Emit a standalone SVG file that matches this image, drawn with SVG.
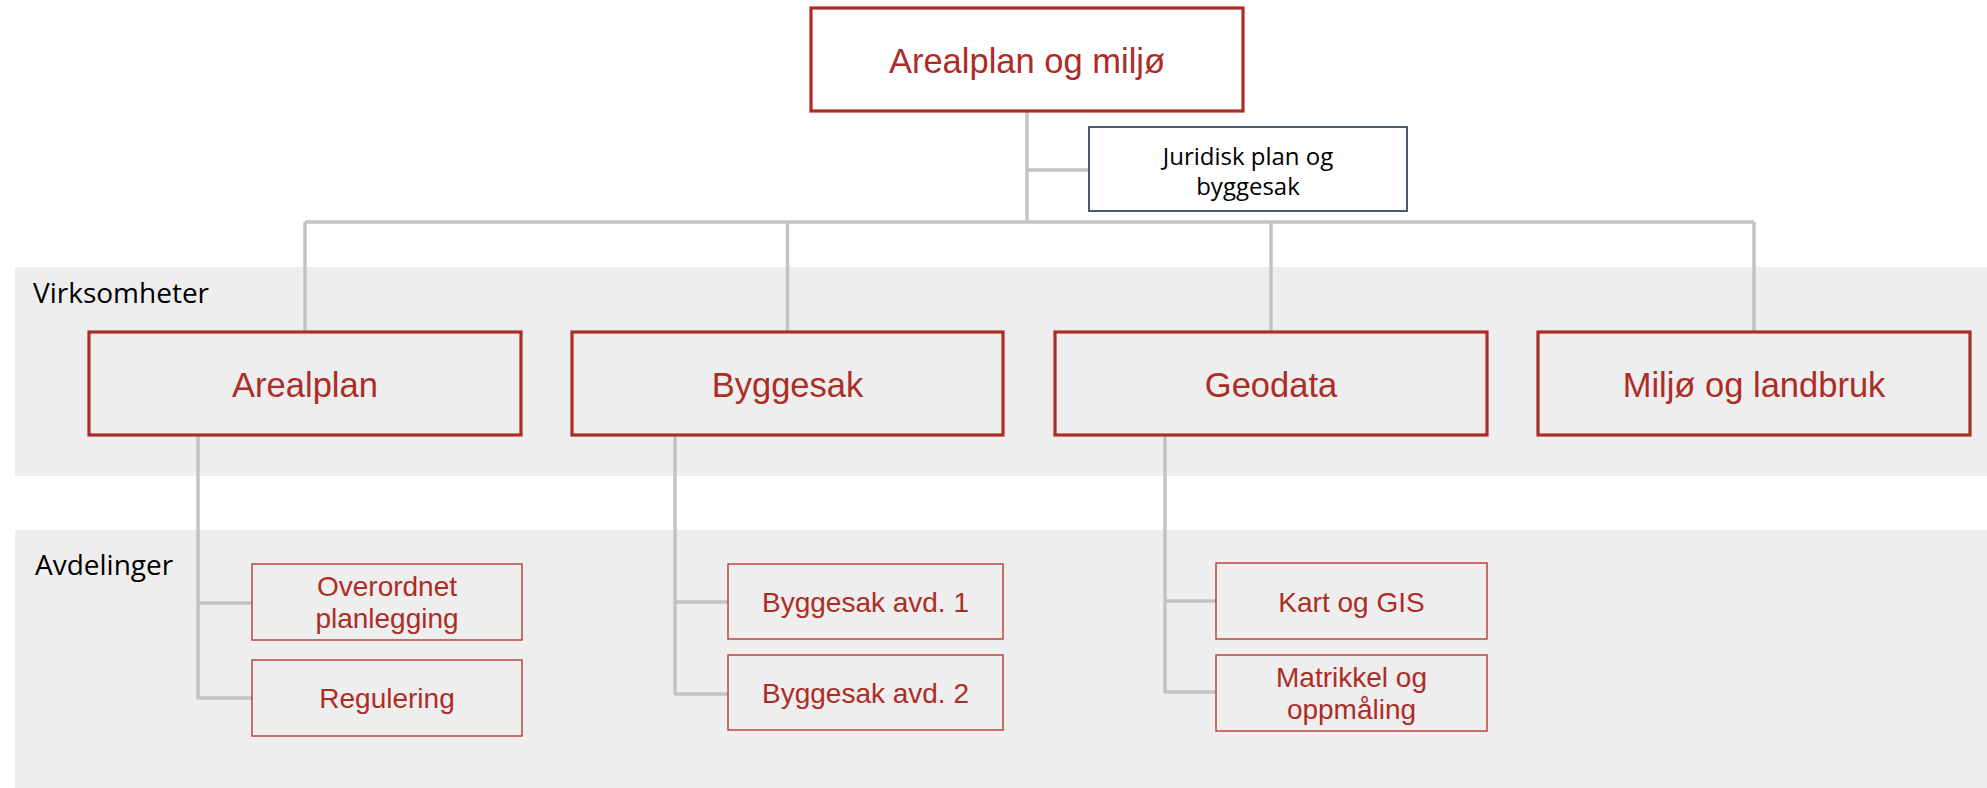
<svg xmlns="http://www.w3.org/2000/svg" width="1987" height="788" viewBox="0 0 1987 788">
<style>
.band{fill:#eeeeee}
.conn{stroke:#c3c3c3;stroke-width:3.5;fill:none;stroke-linejoin:round}
.main{fill:#ffffff;stroke:#ad2d26;stroke-width:3.2}
.l1{fill:#eeeeee;stroke:#ad2d26;stroke-width:3.2}
.l2{fill:#eeeeee;stroke:#b83a30;stroke-width:1.4}
.jur{fill:#ffffff;stroke:#3b4a5e;stroke-width:1.8}
.rt{font-family:"Liberation Sans",Arial,sans-serif;fill:#ad2d26;text-anchor:middle}
.big{font-size:34.5px}
.sm{font-size:28px}
.cal{font-family:"Open Sans","Noto Sans",sans-serif;fill:#000000}
</style>
<rect width="1987" height="788" fill="#ffffff"/>
<rect class="band" x="15" y="267" width="1972" height="209"/>
<rect class="band" x="15" y="530" width="1972" height="258"/>
<text class="cal" x="33" y="303" font-size="28">Virksomheter</text>
<text class="cal" x="35" y="575" font-size="28">Avdelinger</text>
<g id="connectors">
<path class="conn" d="M1027 111 V222"/>
<path class="conn" d="M1027 170 H1089"/>
<path class="conn" d="M305 222 H1754"/>
<path class="conn" d="M305 222 V332 M787.5 222 V332 M1271 222 V332 M1754 222 V332"/>
<path class="conn" d="M198 435 V698 H252 M198 603 H252"/>
<path class="conn" d="M675 435 V694 H728 M675 602 H728"/>
<path class="conn" d="M1165 435 V692 H1216 M1165 601 H1216"/>
</g>
<g id="n-top">
<rect class="main" x="811" y="8" width="432" height="103"/>
<text class="rt big" x="1027" y="73">Arealplan og miljø</text>
</g>
<g id="n-juridisk">
<rect class="jur" x="1089" y="127" width="318" height="84"/>
<text class="cal" font-size="24" text-anchor="middle" x="1248" y="165">Juridisk plan og</text>
<text class="cal" font-size="24" text-anchor="middle" x="1248" y="195">byggesak</text>
</g>
<g id="n-arealplan">
<rect class="l1" x="89" y="332" width="432" height="103"/>
<text class="rt big" x="305" y="397">Arealplan</text>
</g>
<g id="n-byggesak">
<rect class="l1" x="572" y="332" width="431" height="103"/>
<text class="rt big" x="787.5" y="397">Byggesak</text>
</g>
<g id="n-geodata">
<rect class="l1" x="1055" y="332" width="432" height="103"/>
<text class="rt big" x="1271" y="397">Geodata</text>
</g>
<g id="n-miljo">
<rect class="l1" x="1538" y="332" width="432" height="103"/>
<text class="rt big" x="1754" y="397">Miljø og landbruk</text>
</g>
<g id="n-overordnet">
<rect class="l2" x="252" y="564" width="270" height="76"/>
<text class="rt sm" x="387" y="596">Overordnet</text>
<text class="rt sm" x="387" y="628">planlegging</text>
</g>
<g id="n-regulering">
<rect class="l2" x="252" y="660" width="270" height="76"/>
<text class="rt sm" x="387" y="708">Regulering</text>
</g>
<g id="n-bygg1">
<rect class="l2" x="728" y="564" width="275" height="75"/>
<text class="rt sm" x="865.5" y="612">Byggesak avd. 1</text>
</g>
<g id="n-bygg2">
<rect class="l2" x="728" y="655" width="275" height="75"/>
<text class="rt sm" x="865.5" y="703">Byggesak avd. 2</text>
</g>
<g id="n-kart">
<rect class="l2" x="1216" y="563" width="271" height="76"/>
<text class="rt sm" x="1351.5" y="612">Kart og GIS</text>
</g>
<g id="n-matrikkel">
<rect class="l2" x="1216" y="655" width="271" height="76"/>
<text class="rt sm" x="1351.5" y="687">Matrikkel og</text>
<text class="rt sm" x="1351.5" y="719">oppmåling</text>
</g>
</svg>
